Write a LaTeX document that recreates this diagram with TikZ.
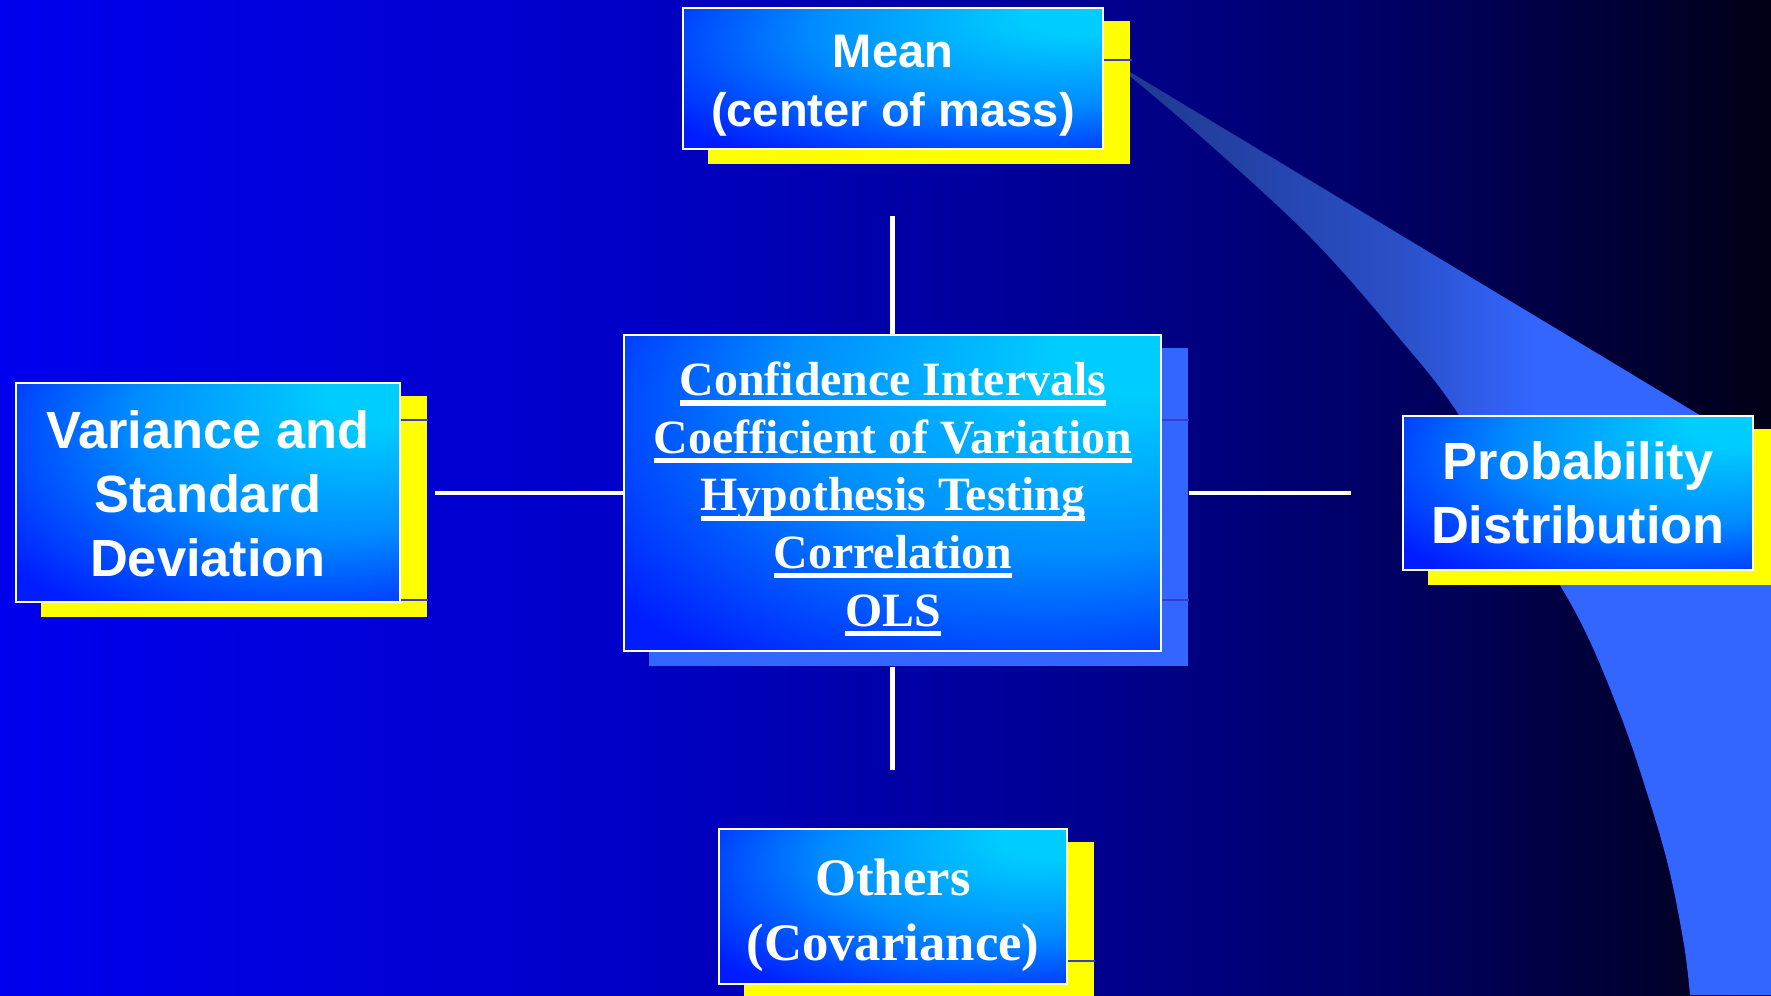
\documentclass[tikz,border=0pt]{standalone}
\usepackage{fontspec}
\usepackage{tikz}

\newfontfamily\arialbf{Liberation Sans}
\newfontfamily\timesbf{Liberation Serif}

\definecolor{bgA}{RGB}{0,0,238}
\definecolor{bgB}{RGB}{0,0,200}
\definecolor{bgC}{RGB}{0,0,142}
\definecolor{bgD}{RGB}{0,0,95}
\definecolor{bgE}{RGB}{0,0,22}
\definecolor{ribA}{RGB}{30,55,140}
\definecolor{ribB}{RGB}{42,80,200}
\definecolor{ribC}{RGB}{51,102,255}
\definecolor{glowA}{RGB}{0,205,255}
\definecolor{glowB}{RGB}{0,140,255}
\definecolor{glowC}{RGB}{0,28,255}
\definecolor{shadowyellow}{RGB}{255,255,0}
\definecolor{shadowblue}{RGB}{51,102,255}
\definecolor{seamblue}{RGB}{60,60,200}

\pgfdeclarehorizontalshading{bgfade}{100bp}{color(0bp)=(bgA); color(25bp)=(bgA);
  color(42.5bp)=(bgB); color(56bp)=(bgC); color(65bp)=(bgD); color(75bp)=(bgE); color(100bp)=(bgE)}
\pgfdeclarehorizontalshading{ribfade}{100bp}{color(0bp)=(ribA); color(25bp)=(ribA);
  color(47bp)=(ribB); color(57bp)=(ribC); color(100bp)=(ribC)}
\pgfdeclareradialshading{boxglow}{\pgfpoint{25bp}{25bp}}{color(0bp)=(glowA);
  color(7bp)=(glowA); color(26bp)=(glowB); color(45bp)=(glowC); color(75bp)=(glowC)}

\pgfdeclarelayer{back}
\pgfsetlayers{back,main}

\newsavebox{\ulbox}
\newcommand{\ulword}[1]{\sbox{\ulbox}{#1}\rlap{\rule[-2.85pt]{\wd\ulbox}{1.45pt}}\usebox{\ulbox}}

\begin{document}
\begin{tikzpicture}[x=0.1mm, y=-0.1mm,
  box/.style={rectangle, draw=white, line width=0.8pt, shading=boxglow, inner sep=0pt},
  sanstext/.style 2 args={text=white, align=center, inner sep=0pt,
    font=\arialbf\bfseries\fontsize{#1}{#2}\selectfont},
  seriftext/.style 2 args={text=white, align=center, inner sep=0pt,
    font=\timesbf\bfseries\fontsize{#1}{#2}\selectfont},
  link/.style={white, line width=1.4pt},
  seam/.style={seamblue, line width=0.35pt}]
  \useasboundingbox (0,0) rectangle (1771,995);

  % ---------------- boxes ----------------
  \node[box, minimum width=42mm, minimum height=14.1mm] (mean) at (893,78.5) {};
  \node[sanstext={13.4pt}{16.8pt}] (meantxt) at (893,85.7) {Mean\\(center of mass)};

  \node[box, minimum width=38.4mm, minimum height=21.9mm] (var) at (208,492.5) {};
  \node[sanstext={14.9pt}{18.2pt}] (vartxt) at (208,494) {Variance and\\Standard\\Deviation};

  \node[box, minimum width=53.7mm, minimum height=31.6mm] (ctr) at (892.5,493) {};
  \node[seriftext={13.6pt}{16.4pt}] (ctrtxt) at (893,499)
    {\ulword{Confidence Intervals}\\\ulword{Coefficient of Variation}\\
     \ulword{Hypothesis Testing}\\\ulword{Correlation}\\\ulword{OLS}};

  \node[box, minimum width=35mm, minimum height=15.4mm] (prob) at (1578,493) {};
  \node[sanstext={14.9pt}{18.2pt}] (probtxt) at (1578,493) {Probability\\Distribution};

  \node[box, minimum width=34.8mm, minimum height=15.5mm] (others) at (893,906.5) {};
  \node[seriftext={15pt}{18.5pt}] (otherstxt) at (893,915.5) {Others\\(Covariance)};

  % free ends of the spokes
  \coordinate (topend) at (892.5,216);
  \coordinate (botend) at (892.5,770);
  \coordinate (leftend) at (435,493);
  \coordinate (rightend) at (1351,493);

  \begin{pgfonlayer}{back}
    % ---------------- backdrop and ribbon ----------------
    \shade[shading=bgfade] (0,0) rectangle (1771,995);
    \shade[shading=ribfade] (1110,60) -- (1771,458) -- (1771,995) -- (1690,995)
      -- plot[smooth, tension=0.6] coordinates {(1690,995) (1684,945) (1669,869) (1648,796)
        (1620,714) (1579,619) (1520,520) (1457,412) (1400,339) (1310,237) (1190,127) (1110,60)}
      -- cycle;

    % ---------------- shadows ----------------
    \foreach \b in {mean,var,prob,others}
      \fill[shadowyellow] ([shift={(26,14)}]\b.south west) rectangle ([shift={(26,14)}]\b.north east);
    \fill[shadowblue] ([shift={(26,14)}]ctr.south west) rectangle ([shift={(26,14)}]ctr.north east);
    \foreach \xa/\xb/\y in {1103/1132/60,400/428/420,400/428/600,1161/1189/420,1161/1189/600,1067/1095/961}
      \draw[seam] (\xa,\y) -- (\xb,\y);

    % ---------------- spokes ----------------
    \draw[link] (ctr.north) -- (topend);
    \draw[link] ([shift={(0,15)}]ctr.south) -- (botend);
    \draw[link] (ctr.west) -- (leftend);
    \draw[link] ([shift={(27,0)}]ctr.east) -- (rightend);
  \end{pgfonlayer}
\end{tikzpicture}
\end{document}
